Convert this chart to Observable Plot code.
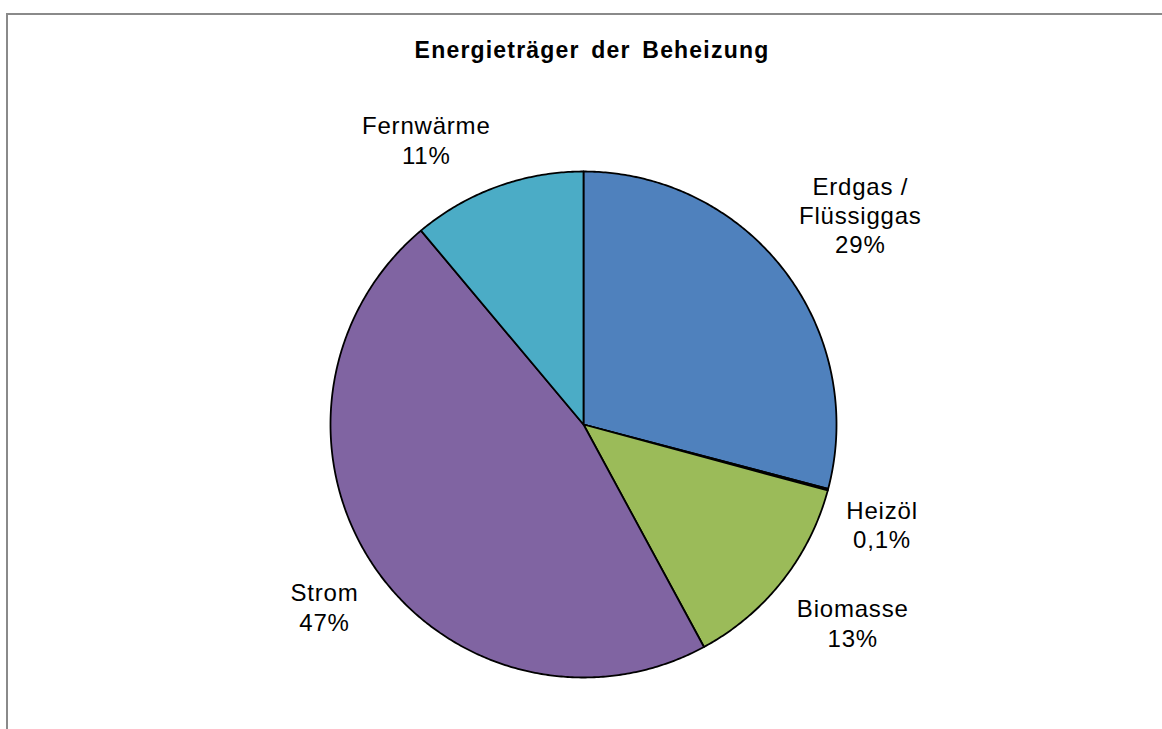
<!DOCTYPE html>
<html>
<head>
<meta charset="utf-8">
<script src="https://cdn.jsdelivr.net/npm/d3@7"></script>
<script src="https://cdn.jsdelivr.net/npm/@observablehq/plot@0.6"></script>
<style>
  html, body { margin: 0; padding: 0; background: #fff; overflow: hidden; width: 1162px; height: 729px; }
  #page { position: relative; width: 1162px; height: 729px; overflow: hidden; }
  #frame { position: absolute; left: 6px; top: 13px; width: 1156px; height: 716px;
           border-left: 2px solid #8a8a8a; border-top: 2px solid #8a8a8a; box-sizing: border-box; }
  #title { position: absolute; top: 39px; left: 592px; transform: translateX(-50%);
           white-space: nowrap; font-family: "Liberation Sans", Arial, sans-serif;
           font-weight: bold; font-size: 23px; line-height: 23px; letter-spacing: 1.2px;
           word-spacing: 4px; color: #000; }
  #chart { position: absolute; left: 0; top: 80px; }
</style>
</head>
<body>
<div id="page">
  <div id="frame"></div>
  <div id="title">Energieträger der Beheizung</div>
  <div id="chart"></div>
</div>
<script>
// Data (clockwise from 12 o'clock)
const categories = ["Erdgas /\nFlüssiggas", "Heizöl", "Biomasse", "Strom", "Fernwärme"];
const values = [29.1, 0.1, 12.9, 46.8, 11.1];
const pctLabels = ["29%", "0,1%", "13%", "47%", "11%"];
const colors = ["#4F81BD", "#C0504D", "#9BBB59", "#8064A2", "#4BACC6"];

// Layout
const W = 1162, H = 649;
const cx = 583, cy = 344;
const R = 253;
const fontSize = 24, lineH = 1.22, letterSp = 0.8;

const arcs = d3.pie().sort(null).value(d => d)(values);

const slices = arcs.map((a, i) => {
  const pts = [{x: 0, y: 0}];
  const n = Math.max(2, Math.ceil((a.endAngle - a.startAngle) / (Math.PI / 360)));
  for (let k = 0; k <= n; k++) {
    const t = a.startAngle + (a.endAngle - a.startAngle) * k / n;
    pts.push({x: Math.sin(t) * R, y: -Math.cos(t) * R});
  }
  pts.push({x: 0, y: 0});
  return {pts, color: colors[i]};
});

// label placement: box corner touching a circle just outside the pie
const ctx = document.createElement("canvas").getContext("2d");
ctx.font = `${fontSize}px "Liberation Sans"`;
const labelR = R + 19;
const labels = arcs.map((a, i) => {
  const text = categories[i] + "\n" + pctLabels[i];
  const lines = text.split("\n");
  const w = d3.max(lines, l => ctx.measureText(l).width + letterSp * l.length);
  const h = lines.length * fontSize * lineH;
  const m = (a.startAngle + a.endAngle) / 2;
  const px = Math.sin(m) * labelR, py = -Math.cos(m) * labelR;
  const sx = Math.sign(Math.sin(m)), sy = Math.sign(-Math.cos(m));
  return {text, x: px + sx * w / 2, y: py + sy * h / 2};
});

const marks = slices.map(s =>
  Plot.line(s.pts, {x: "x", y: "y", fill: s.color, stroke: "#000", strokeWidth: 1.8,
                    strokeLinejoin: "round", curve: "linear"})
);
marks.push(
  Plot.text(labels, {x: "x", y: "y", text: "text", fontSize, lineHeight: lineH,
                     textAnchor: "middle", lineAnchor: "middle", fill: "#000"})
);

const plot = Plot.plot({
  width: W, height: H, margin: 0,
  x: {type: "linear", domain: [-cx, W - cx], range: [0, W], axis: null},
  y: {type: "linear", domain: [-cy, H - cy], range: [0, H], axis: null},
  style: {fontFamily: '"Liberation Sans", Arial, sans-serif', letterSpacing: letterSp + "px",
          background: "transparent", overflow: "visible"},
  marks
});
document.getElementById("chart").appendChild(plot);
</script>
</body>
</html>
